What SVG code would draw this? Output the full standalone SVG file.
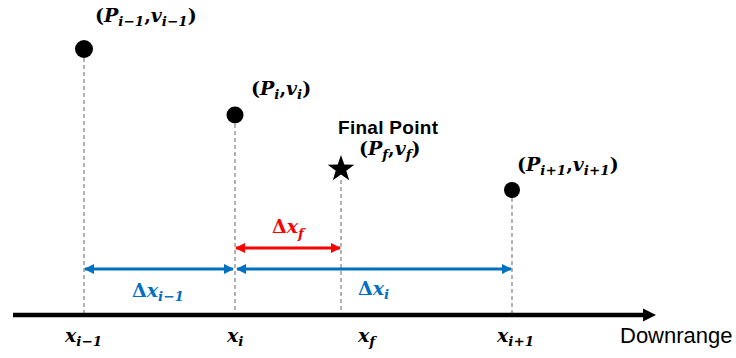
<svg xmlns="http://www.w3.org/2000/svg" width="736" height="358" viewBox="0 0 736 358">
<style>
.m{font-family:"DejaVu Serif","Liberation Serif",serif;font-weight:bold;font-style:italic;font-size:19px;fill:#000}
.s{font-size:13.5px}
.u{font-style:normal}
.dash{stroke:#808080;stroke-width:1.2;stroke-dasharray:4 3;fill:none}
.pt{fill:#000}
.blue{stroke:#0070C0;stroke-width:3;fill:none}
.red{stroke:#FF0000;stroke-width:3;fill:none}
.lab{font-family:"Liberation Sans",Arial,sans-serif;font-size:22px;fill:#000}
.bold{font-family:"Liberation Sans",Arial,sans-serif;font-weight:bold;font-size:19px;fill:#000}
</style>
<defs>
<marker id="hb" viewBox="0 0 10 10" refX="9" refY="5" markerWidth="11" markerHeight="10" markerUnits="userSpaceOnUse" orient="auto-start-reverse">
<path d="M0,0 L10,5 L0,10 Z" fill="#0070C0"/>
</marker>
<marker id="hr" viewBox="0 0 10 10" refX="9" refY="5" markerWidth="11" markerHeight="10" markerUnits="userSpaceOnUse" orient="auto-start-reverse">
<path d="M0,0 L10,5 L0,10 Z" fill="#FF0000"/>
</marker>
</defs>
<rect width="736" height="358" fill="#fff"/>
<g id="connectors">
<line class="dash" x1="84" y1="58" x2="84" y2="313"/>
<line class="dash" x1="235" y1="124" x2="235" y2="313"/>
<line class="dash" x1="341" y1="180" x2="341" y2="313"/>
<line class="dash" x1="512" y1="198" x2="512" y2="313"/>
<line class="blue" x1="85" y1="269" x2="233" y2="269" marker-start="url(#hb)" marker-end="url(#hb)"/>
<line class="blue" x1="237" y1="269" x2="511" y2="269" marker-start="url(#hb)" marker-end="url(#hb)"/>
<line class="red" x1="236" y1="248" x2="340" y2="248" marker-start="url(#hr)" marker-end="url(#hr)"/>
</g>
<g id="axis">
<line x1="13" y1="315" x2="645" y2="315" stroke="#000" stroke-width="4.5"/>
<polygon points="643,308.5 656,315 643,321.5" fill="#000"/>
<text class="lab" x="620" y="343">Downrange</text>
</g>
<g id="point-im1">
<circle class="pt" cx="84" cy="49" r="9"/>
<text class="m" x="95" y="22"><tspan class="u">(</tspan>P<tspan class="s" dy="4">i−1</tspan><tspan class="u" dy="-4">,</tspan>v<tspan class="s" dy="4">i−1</tspan><tspan class="u" dy="-4">)</tspan></text>
</g>
<g id="point-i">
<circle class="pt" cx="235" cy="115" r="8.5"/>
<text class="m" x="251" y="95"><tspan class="u">(</tspan>P<tspan class="s" dy="4">i</tspan><tspan class="u" dy="-4">,</tspan>v<tspan class="s" dy="4">i</tspan><tspan class="u" dy="-4">)</tspan></text>
</g>
<g id="point-f">
<polygon class="pt" points="341,155 344.3,164.5 354.3,164.7 346.3,170.7 349.2,180.3 341,174.6 332.8,180.3 335.7,170.7 327.7,164.7 337.7,164.5"/>
<text class="bold" x="338" y="134" textLength="100">Final Point</text>
<text class="m" x="359" y="155"><tspan class="u">(</tspan>P<tspan class="s" dy="4">f</tspan><tspan class="u" dy="-4">,</tspan>v<tspan class="s" dy="4">f</tspan><tspan class="u" dy="-4">)</tspan></text>
</g>
<g id="point-ip1">
<circle class="pt" cx="512" cy="190" r="8"/>
<text class="m" x="517" y="171"><tspan class="u">(</tspan>P<tspan class="s" dy="4">i+1</tspan><tspan class="u" dy="-4">,</tspan>v<tspan class="s" dy="4">i+1</tspan><tspan class="u" dy="-4">)</tspan></text>
</g>
<g id="delta-labels">
<text class="m" x="272" y="233" style="fill:#FF0000"><tspan class="u">Δ</tspan>x<tspan class="s" dy="5">f</tspan></text>
<text class="m" x="132" y="297" style="fill:#0070C0"><tspan class="u">Δ</tspan>x<tspan class="s" dy="4">i−1</tspan></text>
<text class="m" x="358" y="295" style="fill:#0070C0"><tspan class="u">Δ</tspan>x<tspan class="s" dy="4">i</tspan></text>
</g>
<g id="axis-labels">
<text class="m" x="65" y="342">x<tspan class="s" dy="4">i−1</tspan></text>
<text class="m" x="227" y="342">x<tspan class="s" dy="4">i</tspan></text>
<text class="m" x="358" y="342">x<tspan class="s" dy="4">f</tspan></text>
<text class="m" x="497" y="342">x<tspan class="s" dy="4">i+1</tspan></text>
</g>
</svg>
